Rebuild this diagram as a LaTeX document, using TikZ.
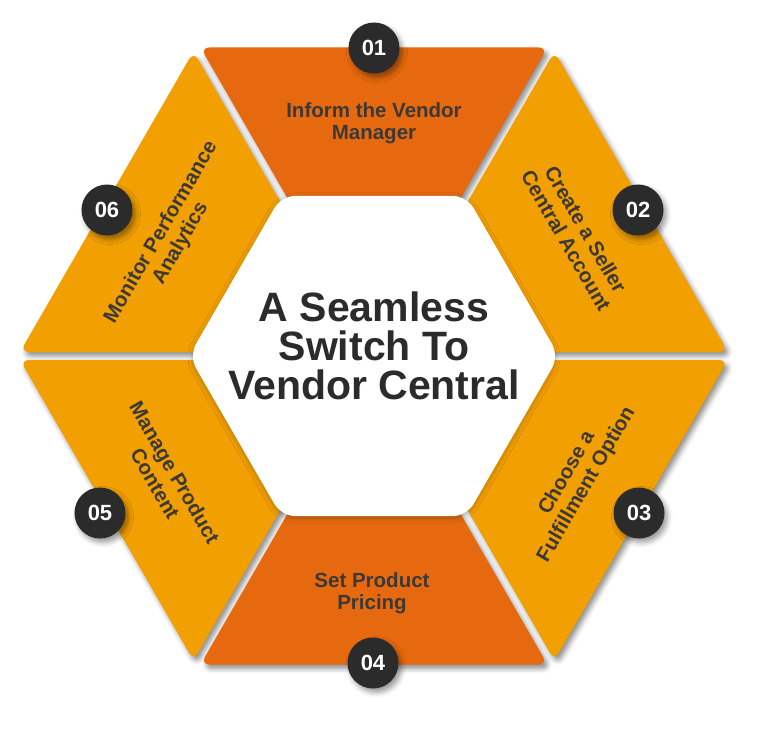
\documentclass[tikz,border=0pt]{standalone}
\usepackage{fontspec}
\setmainfont{Liberation Sans}
\usetikzlibrary{calc,shadows.blur}
\definecolor{dorange}{HTML}{E6690F}
\definecolor{lorange}{HTML}{F29F02}
\definecolor{badge}{HTML}{2B2B2B}
\definecolor{segtext}{HTML}{3C3935}
\definecolor{titletext}{HTML}{2B2B2B}
\tikzset{
  segshadow/.style={blur shadow={shadow xshift=3pt,shadow yshift=-4pt,shadow blur radius=5pt,shadow opacity=45}},
  segshape/.style={rounded corners=9pt},
  badgenode/.style={circle, fill=badge, minimum size=51pt, inner sep=0pt, text=white,
    font=\bfseries\fontsize{22}{24}\selectfont,
    blur shadow={shadow xshift=3pt,shadow yshift=-4pt,shadow blur radius=5pt,shadow opacity=40}},
  segtitle/.style={align=center, text=segtext, font=\bfseries\fontsize{20.5}{22.5}\selectfont},
  maintitle/.style={align=center, text=titletext, font=\bfseries\fontsize{41}{39}\selectfont},
}
\newcommand{\segpath}[2]{% #1 = start angle, #2 = options
  \pgfmathsetmacro\sb{#1+60}
  \path[segshape,#2] ($(#1:354)+(#1+90:4)$) -- ($(\sb:354)+(\sb-90:4)$)
     -- ($(\sb:165)+(\sb-90:4)$) -- ($(#1:165)+(#1+90:4)$) -- cycle;
}
\begin{document}
\begin{tikzpicture}[x=1pt,y=1pt]
\useasboundingbox (-374,-378) rectangle (394,356);
% shadows first
\foreach \a in {60,0,-60,-120,-180,120} {\segpath{\a}{segshadow}}
% segment fills
\segpath{60}{fill=dorange}
\segpath{0}{fill=lorange}
\segpath{-60}{fill=lorange}
\segpath{-120}{fill=dorange}
\segpath{-180}{fill=lorange}
\segpath{120}{fill=lorange}
% inner white hexagon
\path[fill=white, rounded corners=14pt,
  blur shadow={shadow xshift=0pt,shadow yshift=-2pt,shadow blur radius=5pt,shadow opacity=25}]
  (0:185) -- (60:185) -- (120:185) -- (180:185) -- (240:185) -- (300:185) -- cycle;
\node[maintitle] (title) at (0,10) {A Seamless\\Switch To\\Vendor Central};
% segment texts
\node[segtitle] (t1) at (0,233) {Inform the Vendor\\Manager};
\node[segtitle, rotate=-60] (t2) at (202,121) {Create a Seller\\Central Account};
\node[segtitle, rotate=60] (t3) at (203,-123) {Choose a\\Fulfillment Option};
\node[segtitle] (t4) at (-2,-237) {Set Product\\Pricing};
\node[segtitle, rotate=-60] (t5) at (-209,-122) {Manage Product\\Content};
\node[segtitle, rotate=60] (t6) at (-203,118) {Monitor Performance\\Analytics};
% badges
\node[badgenode] (b1) at (0,308) {01};
\node[badgenode] (b2) at (264,146) {02};
\node[badgenode] (b3) at (265,-157) {03};
\node[badgenode] (b4) at (-1,-307) {04};
\node[badgenode] (b5) at (-274,-157) {05};
\node[badgenode] (b6) at (-267,146) {06};
\end{tikzpicture}
\end{document}
